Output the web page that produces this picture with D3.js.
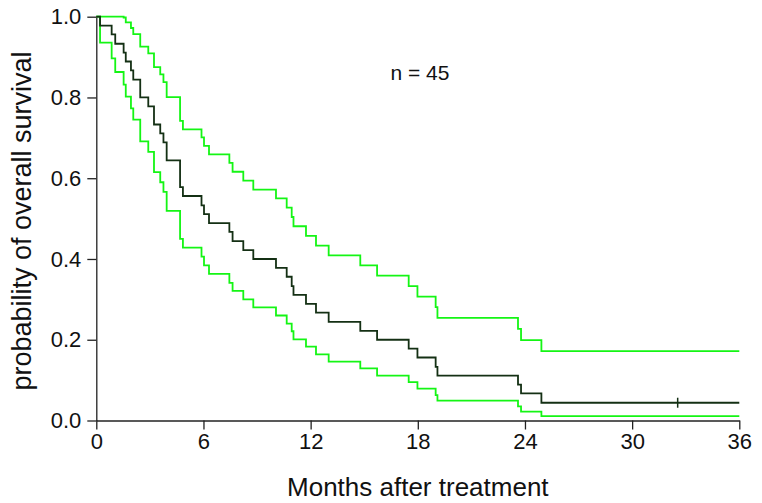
<!DOCTYPE html>
<html>
<head>
<meta charset="utf-8">
<script src="https://cdn.jsdelivr.net/npm/d3@7"></script>
<style>
  html, body { margin: 0; padding: 0; background: #fff; }
  svg { display: block; font-family: "Liberation Sans", Arial, Helvetica, sans-serif; }
</style>
</head>
<body>
<svg id="chart" width="762" height="503"></svg>
<script>
// ---- data ----
const eventTimes = [0.21,0.86,1.06,1.53,1.65,1.94,2.07,2.46,2.91,3.23,3.58,3.76,3.94,4.69,4.85,5.89,6.03,6.31,7.45,7.63,8.23,8.79,10.06,10.66,10.94,11.04,11.74,12.30,13.01,14.78,15.72,17.49,17.98,19.00,19.10,23.61,23.78,24.92];
const survival   = [0.978,0.956,0.933,0.911,0.889,0.867,0.844,0.800,0.778,0.733,0.711,0.689,0.644,0.578,0.556,0.533,0.511,0.489,0.467,0.444,0.422,0.400,0.378,0.356,0.333,0.311,0.289,0.267,0.244,0.222,0.200,0.178,0.156,0.133,0.111,0.089,0.067,0.044];
const upperCI    = [1,1,1,0.998,0.986,0.972,0.957,0.926,0.909,0.875,0.857,0.838,0.801,0.742,0.721,0.701,0.680,0.659,0.638,0.616,0.594,0.572,0.550,0.527,0.504,0.481,0.457,0.433,0.409,0.384,0.359,0.333,0.307,0.281,0.254,0.227,0.199,0.172];
const lowerCI    = [0.936,0.897,0.863,0.832,0.802,0.773,0.745,0.691,0.665,0.615,0.590,0.566,0.519,0.450,0.428,0.406,0.384,0.363,0.341,0.321,0.300,0.280,0.260,0.240,0.221,0.201,0.183,0.164,0.146,0.129,0.111,0.095,0.079,0.063,0.049,0.035,0.022,0.011];
const censorTimes = [32.55];
const endTime = 36;
const xTicks = [0, 6, 12, 18, 24, 30, 36];
const yTicks = [0.0, 0.2, 0.4, 0.6, 0.8, 1.0];
const xTitle = "Months after treatment";
const yTitle = "probability of overall survival";
const annotation = "n = 45";

// ---- layout ----
const svg = d3.select("#chart");
const x = d3.scaleLinear().domain([0, 36]).range([96.3, 739.3]);
const y = d3.scaleLinear().domain([0, 1]).range([420.5, 16.7]);

function stepSeries(vals) {
  const pts = [[0, 1]];
  eventTimes.forEach((t, i) => pts.push([t, vals[i]]));
  pts.push([endTime, vals[vals.length - 1]]);
  return pts;
}
const line = d3.line().x(d => x(d[0])).y(d => y(d[1])).curve(d3.curveStepAfter);

const green = "#14f514";
const dark = "#143014";
svg.append("path").attr("d", line(stepSeries(upperCI)))
  .attr("fill", "none").attr("stroke", green).attr("stroke-width", 1.8);
svg.append("path").attr("d", line(stepSeries(lowerCI)))
  .attr("fill", "none").attr("stroke", green).attr("stroke-width", 1.8);
svg.append("path").attr("d", line(stepSeries(survival)))
  .attr("fill", "none").attr("stroke", dark).attr("stroke-width", 1.8);

// censor marks
censorTimes.forEach(t => {
  const s = survival[survival.length - 1];
  svg.append("line")
    .attr("x1", x(t)).attr("x2", x(t))
    .attr("y1", y(s) - 5).attr("y2", y(s) + 5)
    .attr("stroke", dark).attr("stroke-width", 1.5);
});

// axes
const xAxis = svg.append("g").attr("transform", `translate(0,${y(0)})`)
  .call(d3.axisBottom(x).tickValues(xTicks).tickSize(9).tickSizeOuter(0).tickPadding(4).tickFormat(d3.format("d")));
const yAxis = svg.append("g").attr("transform", `translate(${x(0)},0)`)
  .call(d3.axisLeft(y).tickValues(yTicks).tickSize(9).tickSizeOuter(0).tickPadding(6).tickFormat(d3.format(".1f")));
[xAxis, yAxis].forEach(g => {
  g.selectAll("path, line").attr("stroke", "#222").attr("stroke-width", 1.3);
  g.selectAll("text").attr("fill", "#111").style("font-size", "22px")
    .style("font-family", "'Liberation Sans', Arial, sans-serif");
});

// titles
svg.append("text").attr("x", (x(0) + x(36)) / 2).attr("y", 496)
  .attr("text-anchor", "middle").style("font-size", "26px").attr("fill", "#111")
  .text(xTitle);
svg.append("text").attr("transform", `translate(31,221) rotate(-90)`)
  .attr("text-anchor", "middle").style("font-size", "27px").attr("fill", "#111")
  .text(yTitle);
svg.append("text").attr("x", 420).attr("y", 80)
  .attr("text-anchor", "middle").style("font-size", "21px").attr("fill", "#111")
  .text(annotation);
</script>
</body>
</html>
